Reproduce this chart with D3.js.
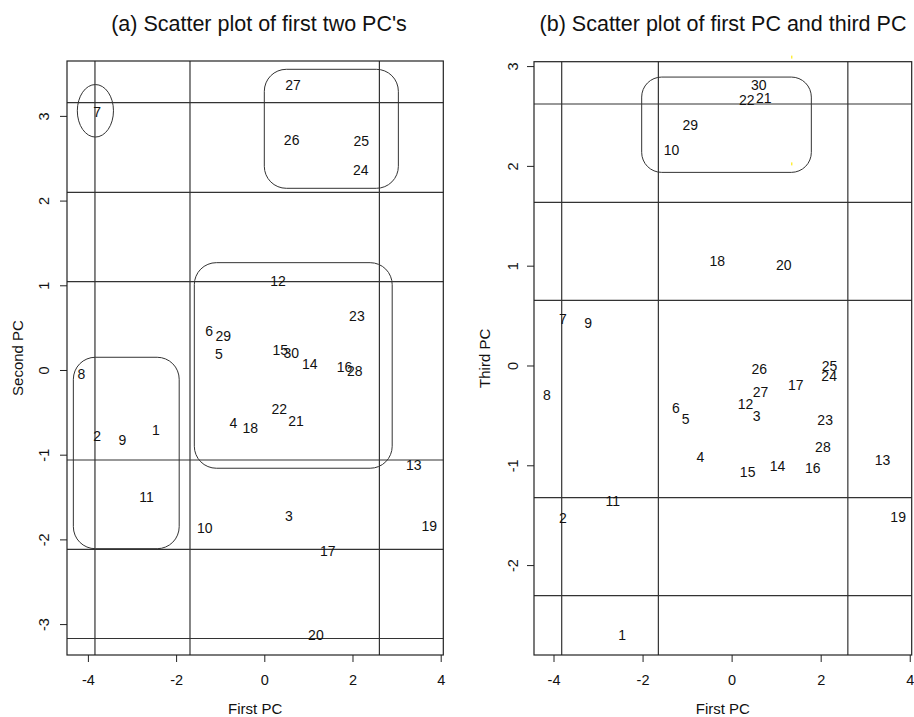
<!DOCTYPE html>
<html>
<head>
<meta charset="utf-8">
<script src="https://cdn.jsdelivr.net/npm/d3@7"></script>
<style>
  html, body { margin: 0; padding: 0; background: #fff; }
  svg { display: block; font-family: "Liberation Sans", Arial, sans-serif; }
</style>
</head>
<body>
<svg id="chart" width="914" height="717"></svg>
<script>
// ---------- data ----------
const ids = d3.range(1, 31);
const pc1 = [-2.46, -3.79, 0.56, -0.70, -1.03, -1.25, -3.79, -4.15, -3.22, -1.35,
             -2.67, 0.31, 3.39, 1.03, 0.36, 1.82, 1.44, -0.32, 3.74, 1.17,
             0.72, 0.34, 2.10, 2.19, 2.20, 0.62, 0.65, 2.05, -0.93, 0.61];
const pc2 = [-0.71, -0.78, -1.72, -0.63, 0.19, 0.46, 3.05, -0.05, -0.83, -1.87,
             -1.50, 1.05, -1.12, 0.07, 0.24, 0.03, -2.14, -0.69, -1.84, -3.13,
             -0.60, -0.46, 0.64, 2.36, 2.70, 2.72, 3.36, -0.01, 0.40, 0.20];
const pc3 = [-2.70, -1.53, -0.51, -0.92, -0.54, -0.43, 0.46, -0.30, 0.42, 2.16,
             -1.36, -0.39, -0.95, -1.01, -1.07, -1.03, -0.20, 1.05, -1.52, 1.01,
             2.68, 2.66, -0.55, -0.11, -0.01, -0.04, -0.27, -0.82, 2.41, 2.81];

const xTicks = [-4, -2, 0, 2, 4];
const yTicksA = [-3, -2, -1, 0, 1, 2, 3];
const yTicksB = [-2, -1, 0, 1, 2, 3];

// cut lines (data units)
const hLinesA = [3.156, 2.098, 1.043, -1.063, -2.117, -3.17];
const vLinesA = [-3.84, -1.685, 2.61];
const hLinesB = [2.62, 1.635, 0.653, -1.325, -2.307];
const vLinesB = [-3.816, -1.645, 2.61];

// cluster outlines [x0, x1, yTop, yBottom] in data units
const boxesA = [[0.0, 3.04, 3.55, 2.145], [-1.587, 2.90, 1.267, -1.16], [-4.33, -1.93, 0.15, -2.11]];
const ellipsesA = [[-3.83, 3.06, 0.41, 0.31]]; // cx, cy, rx, ry
const boxesB = [[-2.02, 1.79, 2.89, 1.935]];
const yellowB = [[1.35, 3.09], [1.35, 2.02]];

// ---------- drawing ----------
const svg = d3.select("#chart");
const ink = "#222";

function panel(cfg) {
  const x = d3.scaleLinear().domain(cfg.xDom).range([cfg.left, cfg.right]);
  const y = d3.scaleLinear().domain(cfg.yDom).range([cfg.bottom, cfg.top]);
  const g = svg.append("g");
  const cx = (cfg.left + cfg.right) / 2, cy = (cfg.top + cfg.bottom) / 2;

  // title
  g.append("text").attr("x", cfg.titleX).attr("y", 31)
    .attr("text-anchor", "middle").attr("font-size", 21.5).attr("fill", "#111")
    .text(cfg.title);

  // cut lines
  g.selectAll(".h").data(cfg.hLines).join("line")
    .attr("x1", cfg.left).attr("x2", cfg.right)
    .attr("y1", d => y(d)).attr("y2", d => y(d))
    .attr("stroke", "#333").attr("stroke-width", 1.2);
  g.selectAll(".v").data(cfg.vLines).join("line")
    .attr("y1", cfg.top).attr("y2", cfg.bottom)
    .attr("x1", d => x(d)).attr("x2", d => x(d))
    .attr("stroke", "#333").attr("stroke-width", 1.2);

  // outlines
  g.selectAll(".box").data(cfg.boxes).join("rect")
    .attr("x", d => x(d[0])).attr("y", d => y(d[2]))
    .attr("width", d => x(d[1]) - x(d[0])).attr("height", d => y(d[3]) - y(d[2]))
    .attr("rx", cfg.radius).attr("ry", cfg.radius)
    .attr("fill", "none").attr("stroke", "#333").attr("stroke-width", 1);
  g.selectAll(".ell").data(cfg.ellipses || []).join("ellipse")
    .attr("cx", d => x(d[0])).attr("cy", d => y(d[1]))
    .attr("rx", d => x(d[0] + d[2]) - x(d[0])).attr("ry", d => y(d[1] - d[3]) - y(d[1]))
    .attr("fill", "none").attr("stroke", "#333").attr("stroke-width", 1);
  g.selectAll(".yel").data(cfg.yellow || []).join("rect")
    .attr("x", d => x(d[0]) - 0.7).attr("y", d => y(d[1]) - 1.5)
    .attr("width", 1.4).attr("height", 3).attr("fill", "#ffee33");

  // point labels
  g.selectAll(".lab").data(ids).join("text")
    .attr("x", (d, i) => x(cfg.xs[i])).attr("y", (d, i) => y(cfg.ys[i]))
    .attr("dy", "0.35em").attr("text-anchor", "middle")
    .attr("font-size", 14).attr("fill", "#111")
    .text(d => d);

  // frame
  g.append("rect").attr("x", cfg.left).attr("y", cfg.top)
    .attr("width", cfg.right - cfg.left).attr("height", cfg.bottom - cfg.top)
    .attr("fill", "none").attr("stroke", ink).attr("stroke-width", 1.2);

  // x axis
  const ax = g.append("g").attr("transform", `translate(0,${cfg.bottom})`)
    .call(d3.axisBottom(x).tickValues(xTicks).tickSize(7).tickFormat(d3.format("d")));
  ax.select(".domain").remove();
  ax.selectAll("line").attr("stroke", ink);
  ax.selectAll("text").attr("y", 25).attr("dy", "0.35em")
    .attr("font-size", 14.5).attr("fill", "#111").attr("font-family", null)
    .text(d => d < 0 ? "-" + Math.abs(d) : d);

  // y axis
  const ay = g.append("g").attr("transform", `translate(${cfg.left},0)`)
    .call(d3.axisLeft(y).tickValues(cfg.yTicks).tickSize(7).tickFormat(d3.format("d")));
  ay.select(".domain").remove();
  ay.selectAll("line").attr("stroke", ink);
  ay.selectAll("text").attr("x", 0).attr("y", 0).attr("dy", "0.35em")
    .attr("text-anchor", "middle")
    .attr("transform", `translate(${-cfg.yLabOff},0) rotate(-90)`)
    .attr("font-size", 14.5).attr("fill", "#111").attr("font-family", null)
    .text(d => d < 0 ? "-" + Math.abs(d) : d);

  // axis titles
  g.append("text").attr("x", cx).attr("y", 709).attr("dy", "0.35em")
    .attr("text-anchor", "middle").attr("font-size", 15).attr("fill", "#111")
    .text("First PC");
  g.append("text").attr("transform", `translate(${cfg.left - 49},${cy}) rotate(-90)`)
    .attr("dy", "0.35em").attr("text-anchor", "middle").attr("font-size", 15).attr("fill", "#111")
    .text(cfg.yTitle);
}

panel({
  left: 67, right: 443.3, top: 61, bottom: 655,
  xDom: [-4.474, 4.059], yDom: [-3.365, 3.648],
  xs: pc1, ys: pc2, yTicks: yTicksA,
  hLines: hLinesA, vLines: vLinesA, boxes: boxesA, ellipses: ellipsesA, radius: 22,
  title: "(a) Scatter plot of first two PC's", titleX: 259, yTitle: "Second PC", yLabOff: 23
});
panel({
  left: 534, right: 911.7, top: 61.7, bottom: 655,
  xDom: [-4.438, 4.044], yDom: [-2.901, 3.044],
  xs: pc1, ys: pc3, yTicks: yTicksB,
  hLines: hLinesB, vLines: vLinesB, boxes: boxesB, yellow: yellowB, radius: 20,
  title: "(b) Scatter plot of first PC and third PC", titleX: 723, yTitle: "Third PC", yLabOff: 21
});
</script>
</body>
</html>
